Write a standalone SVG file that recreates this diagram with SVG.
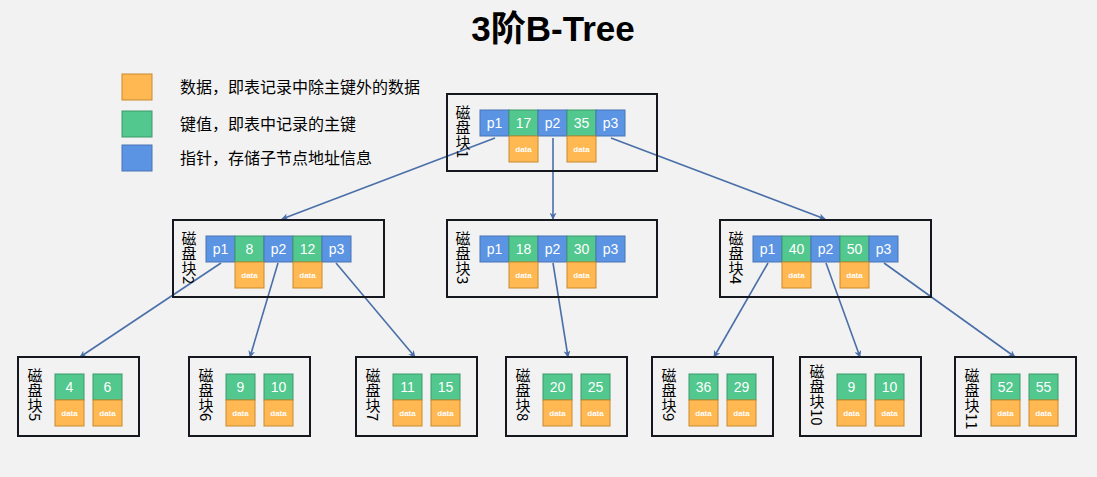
<svg xmlns="http://www.w3.org/2000/svg" width="1097" height="477" viewBox="0 0 1097 477">
<defs>
<style>
.bg{fill:#f2f2f2}
.box{fill:none;stroke:#161820;stroke-width:2}
.p{fill:#5b94e3;stroke:#4a73b5;stroke-width:1}
.k{fill:#52c78e;stroke:#3c9a6c;stroke-width:1}
.d{fill:#ffb852;stroke:#c98a2c;stroke-width:1}
.t{font-family:"Liberation Sans","Noto Sans CJK SC",sans-serif;font-size:14px;fill:#ffffff;text-anchor:middle}
.dt{font-family:"Liberation Sans",sans-serif;font-size:8px;font-weight:bold;fill:#ffffff;text-anchor:middle}
.lbl{font-family:"Noto Sans CJK SC",sans-serif;font-size:15px;fill:#000000;writing-mode:vertical-rl}
.leg{font-family:"Noto Sans CJK SC",sans-serif;font-size:16px;fill:#000000}
.ln{stroke:#4a6fa8;stroke-width:1.6;fill:none;marker-end:url(#ah)}
</style>
<marker id="ah" viewBox="0 0 10 10" refX="9" refY="5" markerWidth="7" markerHeight="7" orient="auto" markerUnits="userSpaceOnUse">
<path d="M0,0 L10,5 L0,10 L3,5 Z" fill="#4a6fa8"/>
</marker>
</defs>
<rect class="bg" x="0" y="0" width="1097" height="477"/>
<text x="553" y="41" font-family="'Liberation Sans','Noto Sans CJK SC',sans-serif" font-size="35" font-weight="bold" text-anchor="middle" fill="#000">3阶B-Tree</text>

<g id="legend">
<rect class="d" x="122" y="74" width="30" height="26"/>
<rect class="k" x="122" y="111" width="30" height="26"/>
<rect class="p" x="122" y="145" width="30" height="26"/>
<text class="leg" x="180" y="93">数据，即表记录中除主键外的数据</text>
<text class="leg" x="180" y="130">键值，即表中记录的主键</text>
<text class="leg" x="180" y="164">指针，存储子节点地址信息</text>
</g>

<g id="connectors">
<line class="ln" x1="495" y1="138" x2="282" y2="219"/>
<line class="ln" x1="553" y1="138" x2="553" y2="219"/>
<line class="ln" x1="611" y1="138" x2="825" y2="219"/>
<line class="ln" x1="221" y1="263" x2="80" y2="357"/>
<line class="ln" x1="278" y1="263" x2="250" y2="357"/>
<line class="ln" x1="336" y1="263" x2="415" y2="357"/>
<line class="ln" x1="553" y1="263" x2="568" y2="357"/>
<line class="ln" x1="768" y1="263" x2="714" y2="357"/>
<line class="ln" x1="826" y1="263" x2="860" y2="357"/>
<line class="ln" x1="884" y1="263" x2="1015" y2="357"/>
</g>

<g id="node1">
<rect class="box" x="447" y="94" width="210" height="77"/>
<text class="lbl" x="463" y="105">磁盘块1</text>
<rect class="p" x="480" y="110" width="29" height="26"/><text class="t" x="494.5" y="128">p1</text>
<rect class="k" x="509" y="110" width="29" height="26"/><text class="t" x="523.5" y="128">17</text>
<rect class="p" x="538" y="110" width="29" height="26"/><text class="t" x="552.5" y="128">p2</text>
<rect class="k" x="567" y="110" width="29" height="26"/><text class="t" x="581.5" y="128">35</text>
<rect class="p" x="596" y="110" width="29" height="26"/><text class="t" x="610.5" y="128">p3</text>
<rect class="d" x="509" y="136" width="29" height="26"/><text class="dt" x="523.5" y="152">data</text>
<rect class="d" x="567" y="136" width="29" height="26"/><text class="dt" x="581.5" y="152">data</text>
</g>

<g id="node2">
<rect class="box" x="173" y="220" width="211" height="77"/>
<text class="lbl" x="189" y="231">磁盘块2</text>
<rect class="p" x="206" y="236" width="29" height="26"/><text class="t" x="220.5" y="254">p1</text>
<rect class="k" x="235" y="236" width="29" height="26"/><text class="t" x="249.5" y="254">8</text>
<rect class="p" x="264" y="236" width="29" height="26"/><text class="t" x="278.5" y="254">p2</text>
<rect class="k" x="293" y="236" width="29" height="26"/><text class="t" x="307.5" y="254">12</text>
<rect class="p" x="322" y="236" width="29" height="26"/><text class="t" x="336.5" y="254">p3</text>
<rect class="d" x="235" y="262" width="29" height="26"/><text class="dt" x="249.5" y="278">data</text>
<rect class="d" x="293" y="262" width="29" height="26"/><text class="dt" x="307.5" y="278">data</text>
</g>

<g id="node3">
<rect class="box" x="447" y="220" width="210" height="77"/>
<text class="lbl" x="463" y="231">磁盘块3</text>
<rect class="p" x="480" y="236" width="29" height="26"/><text class="t" x="494.5" y="254">p1</text>
<rect class="k" x="509" y="236" width="29" height="26"/><text class="t" x="523.5" y="254">18</text>
<rect class="p" x="538" y="236" width="29" height="26"/><text class="t" x="552.5" y="254">p2</text>
<rect class="k" x="567" y="236" width="29" height="26"/><text class="t" x="581.5" y="254">30</text>
<rect class="p" x="596" y="236" width="29" height="26"/><text class="t" x="610.5" y="254">p3</text>
<rect class="d" x="509" y="262" width="29" height="26"/><text class="dt" x="523.5" y="278">data</text>
<rect class="d" x="567" y="262" width="29" height="26"/><text class="dt" x="581.5" y="278">data</text>
</g>

<g id="node4">
<rect class="box" x="720" y="220" width="211" height="77"/>
<text class="lbl" x="736" y="231">磁盘块4</text>
<rect class="p" x="753" y="236" width="29" height="26"/><text class="t" x="767.5" y="254">p1</text>
<rect class="k" x="782" y="236" width="29" height="26"/><text class="t" x="796.5" y="254">40</text>
<rect class="p" x="811" y="236" width="29" height="26"/><text class="t" x="825.5" y="254">p2</text>
<rect class="k" x="840" y="236" width="29" height="26"/><text class="t" x="854.5" y="254">50</text>
<rect class="p" x="869" y="236" width="29" height="26"/><text class="t" x="883.5" y="254">p3</text>
<rect class="d" x="782" y="262" width="29" height="26"/><text class="dt" x="796.5" y="278">data</text>
<rect class="d" x="840" y="262" width="29" height="26"/><text class="dt" x="854.5" y="278">data</text>
</g>

<g id="node5">
<rect class="box" x="18" y="357" width="121" height="79"/>
<text class="lbl" x="35" y="368">磁盘块5</text>
<rect class="k" x="55" y="374" width="29" height="26"/><text class="t" x="69.5" y="392">4</text>
<rect class="k" x="93" y="374" width="29" height="26"/><text class="t" x="107.5" y="392">6</text>
<rect class="d" x="55" y="400" width="29" height="26"/><text class="dt" x="69.5" y="416">data</text>
<rect class="d" x="93" y="400" width="29" height="26"/><text class="dt" x="107.5" y="416">data</text>
</g>

<g id="node6">
<rect class="box" x="189" y="357" width="121" height="79"/>
<text class="lbl" x="206" y="368">磁盘块6</text>
<rect class="k" x="226" y="374" width="29" height="26"/><text class="t" x="240.5" y="392">9</text>
<rect class="k" x="264" y="374" width="29" height="26"/><text class="t" x="278.5" y="392">10</text>
<rect class="d" x="226" y="400" width="29" height="26"/><text class="dt" x="240.5" y="416">data</text>
<rect class="d" x="264" y="400" width="29" height="26"/><text class="dt" x="278.5" y="416">data</text>
</g>

<g id="node7">
<rect class="box" x="356" y="357" width="121" height="79"/>
<text class="lbl" x="373" y="368">磁盘块7</text>
<rect class="k" x="393" y="374" width="29" height="26"/><text class="t" x="407.5" y="392">11</text>
<rect class="k" x="431" y="374" width="29" height="26"/><text class="t" x="445.5" y="392">15</text>
<rect class="d" x="393" y="400" width="29" height="26"/><text class="dt" x="407.5" y="416">data</text>
<rect class="d" x="431" y="400" width="29" height="26"/><text class="dt" x="445.5" y="416">data</text>
</g>

<g id="node8">
<rect class="box" x="506" y="357" width="121" height="79"/>
<text class="lbl" x="523" y="368">磁盘块8</text>
<rect class="k" x="543" y="374" width="29" height="26"/><text class="t" x="557.5" y="392">20</text>
<rect class="k" x="581" y="374" width="29" height="26"/><text class="t" x="595.5" y="392">25</text>
<rect class="d" x="543" y="400" width="29" height="26"/><text class="dt" x="557.5" y="416">data</text>
<rect class="d" x="581" y="400" width="29" height="26"/><text class="dt" x="595.5" y="416">data</text>
</g>

<g id="node9">
<rect class="box" x="652" y="357" width="121" height="79"/>
<text class="lbl" x="669" y="368">磁盘块9</text>
<rect class="k" x="689" y="374" width="29" height="26"/><text class="t" x="703.5" y="392">36</text>
<rect class="k" x="727" y="374" width="29" height="26"/><text class="t" x="741.5" y="392">29</text>
<rect class="d" x="689" y="400" width="29" height="26"/><text class="dt" x="703.5" y="416">data</text>
<rect class="d" x="727" y="400" width="29" height="26"/><text class="dt" x="741.5" y="416">data</text>
</g>

<g id="node10">
<rect class="box" x="800" y="357" width="121" height="79"/>
<text class="lbl" x="817" y="364">磁盘块10</text>
<rect class="k" x="837" y="374" width="29" height="26"/><text class="t" x="851.5" y="392">9</text>
<rect class="k" x="875" y="374" width="29" height="26"/><text class="t" x="889.5" y="392">10</text>
<rect class="d" x="837" y="400" width="29" height="26"/><text class="dt" x="851.5" y="416">data</text>
<rect class="d" x="875" y="400" width="29" height="26"/><text class="dt" x="889.5" y="416">data</text>
</g>

<g id="node11">
<rect class="box" x="955" y="357" width="121" height="79"/>
<text class="lbl" x="972" y="368">磁盘块11</text>
<rect class="k" x="991" y="374" width="29" height="26"/><text class="t" x="1005.5" y="392">52</text>
<rect class="k" x="1029" y="374" width="29" height="26"/><text class="t" x="1043.5" y="392">55</text>
<rect class="d" x="991" y="400" width="29" height="26"/><text class="dt" x="1005.5" y="416">data</text>
<rect class="d" x="1029" y="400" width="29" height="26"/><text class="dt" x="1043.5" y="416">data</text>
</g>
</svg>
